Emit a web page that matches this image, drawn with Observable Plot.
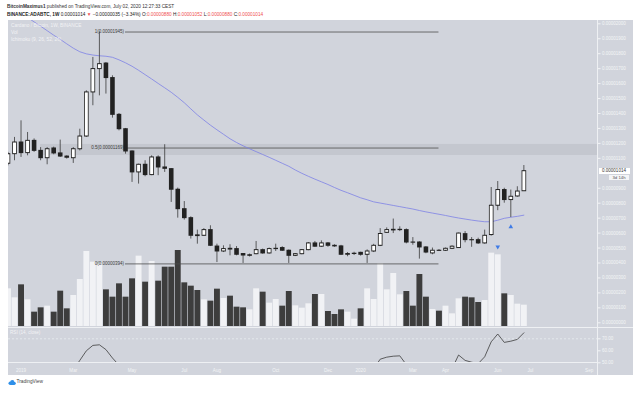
<!DOCTYPE html>
<html><head><meta charset="utf-8">
<script src="https://cdn.jsdelivr.net/npm/d3@7"></script>
<script src="https://cdn.jsdelivr.net/npm/@observablehq/plot@0.6"></script>
<style>
html,body{margin:0;padding:0;background:#fff;}
#wrap{position:relative;width:633px;height:394px;overflow:hidden;font-family:"Liberation Sans",Arial,sans-serif;}
.t{position:absolute;white-space:nowrap;line-height:1;}
.t svg{display:block;}
</style></head>
<body><div id="wrap"></div>
<script>
// ---- data (prices in satoshi, 1e-8 BTC) ----
const firstWeek = "2018-12-24", endWeek = "2020-07-06";
const open  = [1064,1128,1206,1135,1217,1150,1101,1166,1133,1112, 1101,1161,1246,1541,1697,1734,1637,1391,1295,1146, 1006,1057,988,1106,1039,1028,890,760,700,585, 582,620,510,477,495,493,460,448,459,486, 464,493,500,482,448,459,486,531,509,531, 515,511,455,460,468,455,477,515,602,618, 620,620,537,537,504,464,482,482,495,500, 593,553,553,531,587,783,888,821,845,880];
const high  = [1140,1240,1351,1273,1230,1172,1172,1175,1222,1117, 1172,1295,1552,1775,1945,1741,1652,1400,1300,1150, 1061,1084,1117,1117,1191,1032,901,811,709,620, 630,649,526,515,522,510,462,460,544,493, 500,526,509,487,463,490,537,544,548,537, 522,518,470,472,472,488,525,630,635,694, 642,628,570,542,510,500,490,500,515,600, 610,570,566,620,905,945,900,888,910,1052];
const low   = [1050,1084,1106,1117,1140,1084,1057,1124,1106,1095, 1066,1150,1240,1452,1518,1530,1369,1284,1128,939, 928,977,984,984,1006,805,700,687,560,526, 580,510,403,470,448,448,397,440,455,459, 459,477,477,397,443,455,482,505,505,505, 505,450,442,450,446,397,470,510,598,597, 610,528,519,426,462,455,478,478,490,497, 535,505,524,526,580,750,800,704,840,880];
const close = [1128,1206,1135,1217,1150,1101,1161,1133,1112,1104, 1161,1246,1541,1697,1730,1637,1391,1295,1146,1006, 1057,988,1106,1039,1030,890,760,700,582,580, 620,515,477,493,490,455,450,452,486,464, 493,495,482,448,459,486,531,509,531,515, 511,455,460,462,455,477,515,594,620,622, 622,537,536,504,470,482,481,495,509,597, 553,552,531,582,783,888,821,843,878,1014];
const volume = [1130,860,1250,800,430,560,610,430,1060,530, 930,1410,2250,1930,1880,1100,880,1280,880,1430, 2110,1330,1950,1360,1780,1780,2280,1310,1210,1080, 800,760,1120,840,910,580,560,500,1130,1030, 700,810,610,1050,620,550,680,960,960,450, 360,500,430,220,530,1130,810,1880,1100,1590, 950,1050,610,1560,880,510,460,610,380,830, 880,860,720,780,2200,2150,980,930,670,640];
const ma = [2130,2100,2072,2042,2013,1984,1954,1924,1896,1866, 1837,1813,1799,1791,1786,1783,1776,1759,1739,1716, 1689,1660,1631,1601,1572,1542,1508,1472,1431,1391, 1356,1322,1291,1261,1231,1206,1184,1164,1145,1126, 1107,1087,1067,1047,1022,1000,980,961,943,925, 905,886,870,853,836,823,809,801,793,785, 777,769,761,751,742,734,726,718,709,701, 694,687,681,676,676,686,699,706,712,720];
const rsi = [42,44,42,45,43,41,43,42,41,40, 44,52,60,64.5,65,61,54,48,43,39, 41,39,43,41,41,36,32,30,27,27, 29,27,26,27,28,27,27,27,31,30, 32,33,32,30,32,34,38,37,39,38, 38,35,36,36,36,38,45,53,54.7,55.5, 55.8,48.5,47,44,41,42,42,43,45,56.5, 52,50.5,49.3,55,67.5,74,67,68,69.5,75];
const fibLevels = [{ratio:"1", price:1945}, {ratio:"0.5", price:1169}, {ratio:"0", price:394}];
const fibFrom = "2019-04-29", fibTo = "2020-03-30";
const zone = [{from:"2019-01-28", to:"2020-10-05", lo:1119, hi:1193}];
const signals = [{date:"2020-06-01", price:508, dir:"down"}, {date:"2020-06-15", price:642, dir:"up"}];
const priceTicks = [0,100,200,300,400,500,600,700,800,900,1100,1200,1300,1400,1500,1600,1700,1800,1900,2000];
const rsiTicks = [50,60,70];
const timeTickDates = ["2019-01-07","2019-03-04","2019-05-06","2019-07-01","2019-08-05","2019-10-07","2019-12-02","2020-01-06","2020-03-02","2020-04-06","2020-06-01","2020-07-06","2020-09-07"];
const timeTickLabels = ["2019","Mar","May","Jul","Aug","Oct","Dec","2020","Mar","Apr","Jun","Jul","Sep"];

// ---- build ----
const D = s => new Date(s + "T00:00:00Z");
const weeks = d3.utcMonday.range(D(firstWeek), D(endWeek));
const bars = weeks.map((d,i)=>({date:d, open:open[i], high:high[i], low:low[i], close:close[i], vol:volume[i], ma:ma[i], rsi:rsi[i], up: close[i] >= open[i]}));
const fibs = fibLevels.map(f=>({...f, from:D(fibFrom), to:D(fibTo)}));
const zones = zone.map(z=>({...z, from:D(z.from), to:D(z.to)}));
const sigs = signals.map(s=>({...s, date:D(s.date)}));
const tickDates = timeTickDates.map(D);
const tickLabel = new Map(tickDates.map((d,i)=>[+d, timeTickLabels[i]]));

const FONT = '"Liberation Sans", Arial, sans-serif';
const BG = "#d1d4dc", AXT = "#f3f4f6";
const xScale = {type:"utc", domain:[D("2018-12-31"), D("2020-07-06")], range:[14, 529.9], axis:null};
const common = {width:633, marginLeft:8, marginRight:36, marginTop:0, style:{background:"transparent", overflow:"visible", fontFamily:FONT}};

const wrap = document.getElementById("wrap");
function box(css, html){ const d=document.createElement("div"); d.className="t"; d.style.cssText=css; if(html!==undefined) d.innerHTML=html; wrap.appendChild(d); return d; }
function place(node, left, top){ const d=document.createElement("div"); d.style.cssText=`position:absolute;left:${left}px;top:${top}px;`; d.appendChild(node); wrap.appendChild(d); return d; }

// pane background
box(`left:8px;top:20px;width:625px;height:355px;background:${BG};`);

// volume layer
const volPlot = Plot.plot({...common, height:307, marginBottom:0,
  x:xScale, y:{domain:[0,9000], range:[306,6], axis:null},
  marks:[
    Plot.ruleX(bars, {x:"date", y1:0, y2:"vol", stroke:d=>d.up?"#f1f2f5":"#3d3d3d", strokeWidth:5.9, clip:true})
  ]});
place(volPlot, 0, 20);

// price layer
const mainPlot = Plot.plot({...common, height:307, marginBottom:0,
  x:xScale, y:{domain:[0,2000], range:[302.3,3.3], label:null},
  marks:[
    Plot.rect(zones, {x1:"from", x2:"to", y1:"lo", y2:"hi", fill:"#c4c7cf", clip:true}),
    Plot.ruleY(fibs, {y:"price", x1:"from", x2:"to", stroke:"#4e4e4e", strokeWidth:0.8}),
    Plot.text(fibs, {x:"from", y:"price", text:d=>`${d.ratio}(${(d.price/1e8).toFixed(8)})`, textAnchor:"end", dx:-1.5, fontSize:4.5, fill:"#3a3a3a"}),
    Plot.line(bars, {x:"date", y:"ma", stroke:"#7d82e6", strokeWidth:0.8, clip:true}),
    Plot.ruleX(bars, {x:"date", y1:"high", y2:"low", stroke:"#3a3a3a", strokeWidth:0.8, clip:true}),
    Plot.ruleX(bars, {x:"date", y1:d=>Math.max(d.open,d.close), y2:d=>Math.min(d.open,d.close), stroke:"#222", strokeWidth:4.6, insetTop:-0.5, insetBottom:-0.5, clip:true}),
    Plot.ruleX(bars.filter(d=>d.up && d.close-d.open>=8), {x:"date", y1:"close", y2:"open", stroke:"#fff", strokeWidth:3, insetTop:0.5, insetBottom:0.5, clip:true}),
    Plot.dot(sigs, {x:"date", y:"price", symbol:"triangle", rotate:d=>d.dir==="down"?180:0, r:1.7, fill:"#3f7be6", stroke:"none"}),
    Plot.axisY({anchor:"right", ticks:priceTicks, tickFormat:d=>(d/1e8).toFixed(8), tickSize:2.5, tickPadding:2, fontSize:4.5, color:AXT, label:null})
  ]});
place(mainPlot, 0, 20);

// RSI pane + time axis
const rsiPlot = Plot.plot({...common, height:48, marginBottom:13,
  x:{...xScale, axis:undefined}, y:{domain:[50,70], range:[35.3,11.3], label:null},
  marks:[
    Plot.ruleY([70], {stroke:"#eef0f3", strokeWidth:0.7, strokeDasharray:"2,2"}),
    Plot.line(bars, {x:"date", y:"rsi", stroke:"#3c3c3c", strokeWidth:0.8, clip:true}),
    Plot.axisY({anchor:"right", ticks:rsiTicks, tickFormat:d=>d.toFixed(2), tickSize:2.5, tickPadding:2, fontSize:4.5, color:AXT, label:null}),
    Plot.axisX({ticks:tickDates, tickFormat:d=>tickLabel.get(+d), tickSize:0, tickPadding:5.8, fontSize:4.6, color:AXT, label:null})
  ]});
place(rsiPlot, 0, 327);

// separators
box(`left:597px;top:20px;width:0.8px;height:355px;background:#eef0f3;`);
box(`left:8px;top:326.5px;width:625px;height:0.8px;background:#eef0f3;`);
box(`left:8px;top:361.8px;width:589px;height:0.8px;background:#eef0f3;`);

// last price label
const yLast = mainPlot.scale("y").apply(close[close.length-1]) + 20;
box(`left:598.5px;top:${yLast-3}px;width:31px;height:6px;background:#fff;color:#333;font-size:4.5px;line-height:6px;text-align:center;`, (close[close.length-1]/1e8).toFixed(8));
box(`left:609px;top:${yLast+4}px;width:20px;height:5.5px;background:#f4f5f7;color:#555;font-size:4.3px;line-height:5.5px;text-align:center;`, "3d 14h");

// legends
box(`left:11px;top:23.5px;font-size:4.8px;color:#f2f3f5;`, "Cardano / Bitcoin, 1W, BINANCE");
box(`left:11px;top:30.8px;font-size:4.8px;color:#f2f3f5;`, "Vol");
box(`left:11px;top:38px;font-size:4.8px;color:#f2f3f5;`, "Ichimoku (9, 26, 52, 26)");
box(`left:10px;top:330.5px;font-size:4.6px;color:#f2f3f5;`, "RSI (14, close)");

// header
box(`left:7px;top:4.5px;font-size:4.7px;color:#333;`, "<b>BitcoinMaximus1</b> published on TradingView.com, July 02, 2020 12:27:33 CEST");
const red = "#ef4f4f";
box(`left:7px;top:12.5px;font-size:4.7px;color:#222;`,
  `<b>BINANCE:ADABTC, 1W</b> 0.00001014 <span style="color:${red}">▼</span> −0.00000035 (−3.34%) O:<span style="color:${red}">0.00000880</span> H:<span style="color:${red}">0.00001052</span> L:<span style="color:${red}">0.00000880</span> C:<span style="color:${red}">0.00001014</span>`);

// footer logo
box(`left:8px;top:379.5px;width:8px;height:5px;`, `<svg width="8" height="5" viewBox="0 0 8 5"><circle cx="2.2" cy="3.2" r="1.7" fill="#2f8fe8"/><circle cx="4.3" cy="2.2" r="2.1" fill="#2f8fe8"/><circle cx="6.2" cy="3.3" r="1.6" fill="#2f8fe8"/><rect x="2.2" y="3" width="4" height="2" fill="#2f8fe8"/></svg>`);
box(`left:16.5px;top:379.7px;font-size:4.8px;color:#444;`, "TradingView");
</script></body></html>
